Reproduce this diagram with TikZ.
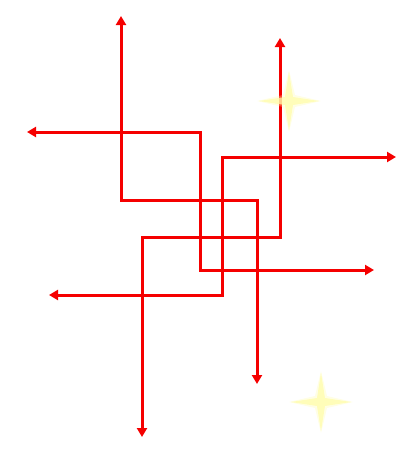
\documentclass[tikz,border=0pt]{standalone}
\usetikzlibrary{arrows.meta,calc}
\definecolor{linered}{RGB}{245,0,0}
\definecolor{starfill}{RGB}{255,252,170}
\tikzset{
  redpath/.style={draw=linered, line width=3pt, line join=miter, {Triangle[length=9pt,width=10pt]}-{Triangle[length=9pt,width=10pt]}},
  sparkle/.style={fill=starfill, draw=none, opacity=0.75},
  sparkleglow/.style={fill=starfill, draw=none, opacity=0.3}
}
\newcommand{\mysparkle}[3]{% cx, cy, name
  \coordinate (#3) at (#1,#2);
  \fill[sparkleglow] ($(#3)+(32,0)$) -- ($(#3)+(6,-6)$) -- ($(#3)+(0,-31)$) -- ($(#3)+(-6,-6)$) -- ($(#3)+(-32,0)$) -- ($(#3)+(-6,6)$) -- ($(#3)+(0,31)$) -- ($(#3)+(6,6)$) -- cycle;
  \fill[sparkle] ($(#3)+(30,0)$) -- ($(#3)+(4,-4)$) -- ($(#3)+(0,-29)$) -- ($(#3)+(-4,-4)$) -- ($(#3)+(-30,0)$) -- ($(#3)+(-4,4)$) -- ($(#3)+(0,29)$) -- ($(#3)+(4,4)$) -- cycle;
}
\begin{document}
\begin{tikzpicture}[x=1pt,y=-1pt]
\useasboundingbox (0,0) rectangle (415,458);
% path 1
\coordinate (a1) at (121,16);
\coordinate (a2) at (121,200);
\coordinate (a3) at (257,200);
\coordinate (a4) at (257,384);
% path 2
\coordinate (b1) at (27,132);
\coordinate (b2) at (200,132);
\coordinate (b3) at (200,270);
\coordinate (b4) at (374,270);
% path 3
\coordinate (c1) at (280,38);
\coordinate (c2) at (280,237);
\coordinate (c3) at (142,237);
\coordinate (c4) at (142,437);
% path 4
\coordinate (d1) at (396,157);
\coordinate (d2) at (222,157);
\coordinate (d3) at (222,295);
\coordinate (d4) at (49,295);
\draw[redpath] (a1) -- (a2) -- (a3) -- (a4);
\draw[redpath] (b1) -- (b2) -- (b3) -- (b4);
\draw[redpath] (c1) -- (c2) -- (c3) -- (c4);
\draw[redpath] (d1) -- (d2) -- (d3) -- (d4);
\mysparkle{289}{101}{s1}
\mysparkle{321}{402}{s2}
\end{tikzpicture}
\end{document}
